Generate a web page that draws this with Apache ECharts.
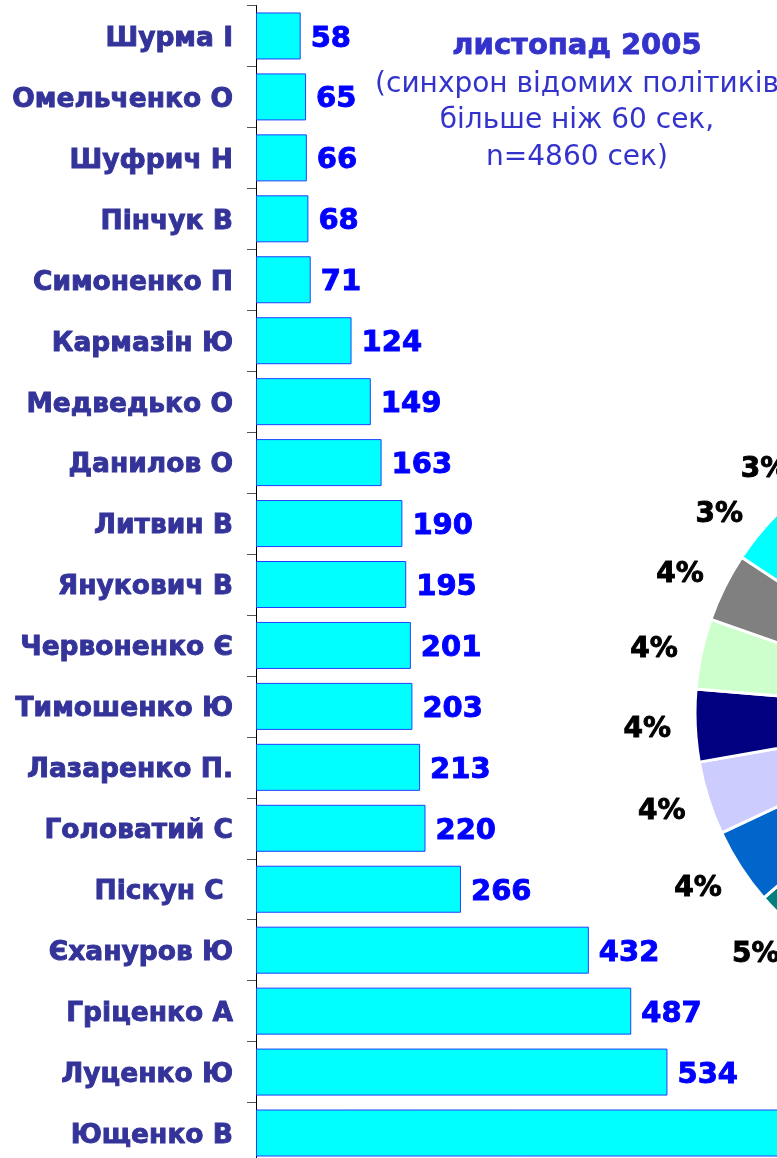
<!DOCTYPE html>
<html>
<head>
<meta charset="utf-8">
<script src="https://cdn.jsdelivr.net/npm/echarts@6/dist/echarts.min.js"></script>
<style>
  html, body { margin: 0; padding: 0; background: #ffffff; }
  #chart { width: 777px; height: 1158px; }
</style>
</head>
<body>
<div id="chart"></div>
<script>
// Politicians, ordered from the shortest to the longest synchronous airtime
const names = ['Шурма І', 'Омельченко О', 'Шуфрич Н', 'Пінчук В', 'Симоненко П',
  'Кармазін Ю', 'Медведько О', 'Данилов О', 'Литвин В', 'Янукович В',
  'Червоненко Є', 'Тимошенко Ю', 'Лазаренко П.', 'Головатий С', 'Піскун С ',
  'Єхануров Ю', 'Гріценко А', 'Луценко Ю', 'Ющенко В'];
// Airtime, seconds
const seconds = [58, 65, 66, 68, 71, 124, 149, 163, 190, 195, 201, 203, 213, 220, 266, 432, 487, 534, 1155];
// Slice colours, same order as names
const sliceColors = ['#FF00FF', '#FFFF00', '#800080', '#800000', '#0000FF',
  '#00CCFF', '#FF8080', '#00FFFF', '#808080', '#CCFFCC',
  '#000080', '#CCCCFF', '#0066CC', '#008080', '#660066',
  '#CCFFFF', '#FFFFCC', '#993366', '#9999FF'];
const titleLines = ['листопад 2005', '(синхрон відомих політиків', 'більше ніж 60 сек,', 'n=4860 сек)'];

const FONT = 'DejaVu Sans, Verdana, sans-serif';

// Pie runs clockwise from 12 o'clock, largest share first
const pieData = names.map((n, i) => ({ name: n, value: seconds[i], itemStyle: { color: sliceColors[i] } })).reverse();
const pieCenter = [978, 713];
const labelRingCenter = [964, 716];

const chart = echarts.init(document.getElementById('chart'), null, { renderer: 'canvas' });

chart.setOption({
  animation: false,
  backgroundColor: '#ffffff',
  grid: { left: 256, top: 5.5, width: 924.6, height: 1158, outerBoundsMode: 'none', containLabel: false },
  xAxis: {
    type: 'value', min: 0, max: 1200, show: false, splitLine: { show: false }
  },
  yAxis: {
    type: 'category',
    data: names,
    inverse: true,
    axisLine: { show: true, lineStyle: { color: '#000000', width: 1 } },
    axisTick: { show: true, length: 9, lineStyle: { color: '#555555', width: 1 } },
    axisLabel: {
      margin: 23,
      formatter: v => '{n|' + v + '}',
      rich: {
        n: {
          fontSize: 26.5, fontWeight: 'bold', color: '#333399', fontFamily: FONT,
          textBorderColor: '#333399', textBorderWidth: 0.9,
          padding: [6, 0, 0, 0]
        }
      }
    },
    splitLine: { show: false }
  },
  graphic: titleLines.map((t, i) => ({
    type: 'text',
    x: 577,
    y: [46, 85, 121, 158][i],
    style: {
      text: t,
      fill: '#3333CC',
      font: (i === 0 ? 'bold 29px ' : '28px ') + FONT,
      textAlign: 'center',
      textVerticalAlign: 'middle',
      stroke: i === 0 ? '#3333CC' : null,
      lineWidth: i === 0 ? 0.8 : 0
    }
  })),
  series: [
    {
      type: 'pie',
      center: pieCenter,
      radius: [0, 283],
      startAngle: 90,
      clockwise: true,
      silent: true,
      data: pieData,
      itemStyle: { borderColor: '#ffffff', borderWidth: 3 },
      label: { show: false },
      labelLine: { show: false },
      z: 1
    },
    {
      // transparent ring carrying the percentage labels around the pie
      type: 'pie',
      center: labelRingCenter,
      radius: [274, 354],
      startAngle: 90,
      clockwise: true,
      silent: true,
      percentPrecision: 2,
      data: pieData.map(d => ({ name: d.name, value: d.value })),
      itemStyle: { color: 'rgba(0,0,0,0)', borderWidth: 0 },
      label: {
        show: true,
        position: 'inner',
        formatter: p => Math.round(p.percent) + '%',
        fontSize: 28,
        fontWeight: 'bold',
        color: '#000000',
        fontFamily: FONT,
        textBorderColor: '#000000',
        textBorderWidth: 0.9
      },
      labelLine: { show: false },
      z: 2
    },
    {
      type: 'bar',
      data: seconds,
      barWidth: 47,
      itemStyle: { color: '#00FFFF', borderColor: '#2040FF', borderWidth: 1 },
      label: {
        show: true,
        position: 'right',
        distance: 10,
        offset: [0, 3],
        fontSize: 29,
        fontWeight: 'bold',
        color: '#0000FF',
        fontFamily: FONT,
        textBorderColor: '#0000FF',
        textBorderWidth: 0.9
      },
      z: 3
    }
  ]
});
</script>
</body>
</html>
